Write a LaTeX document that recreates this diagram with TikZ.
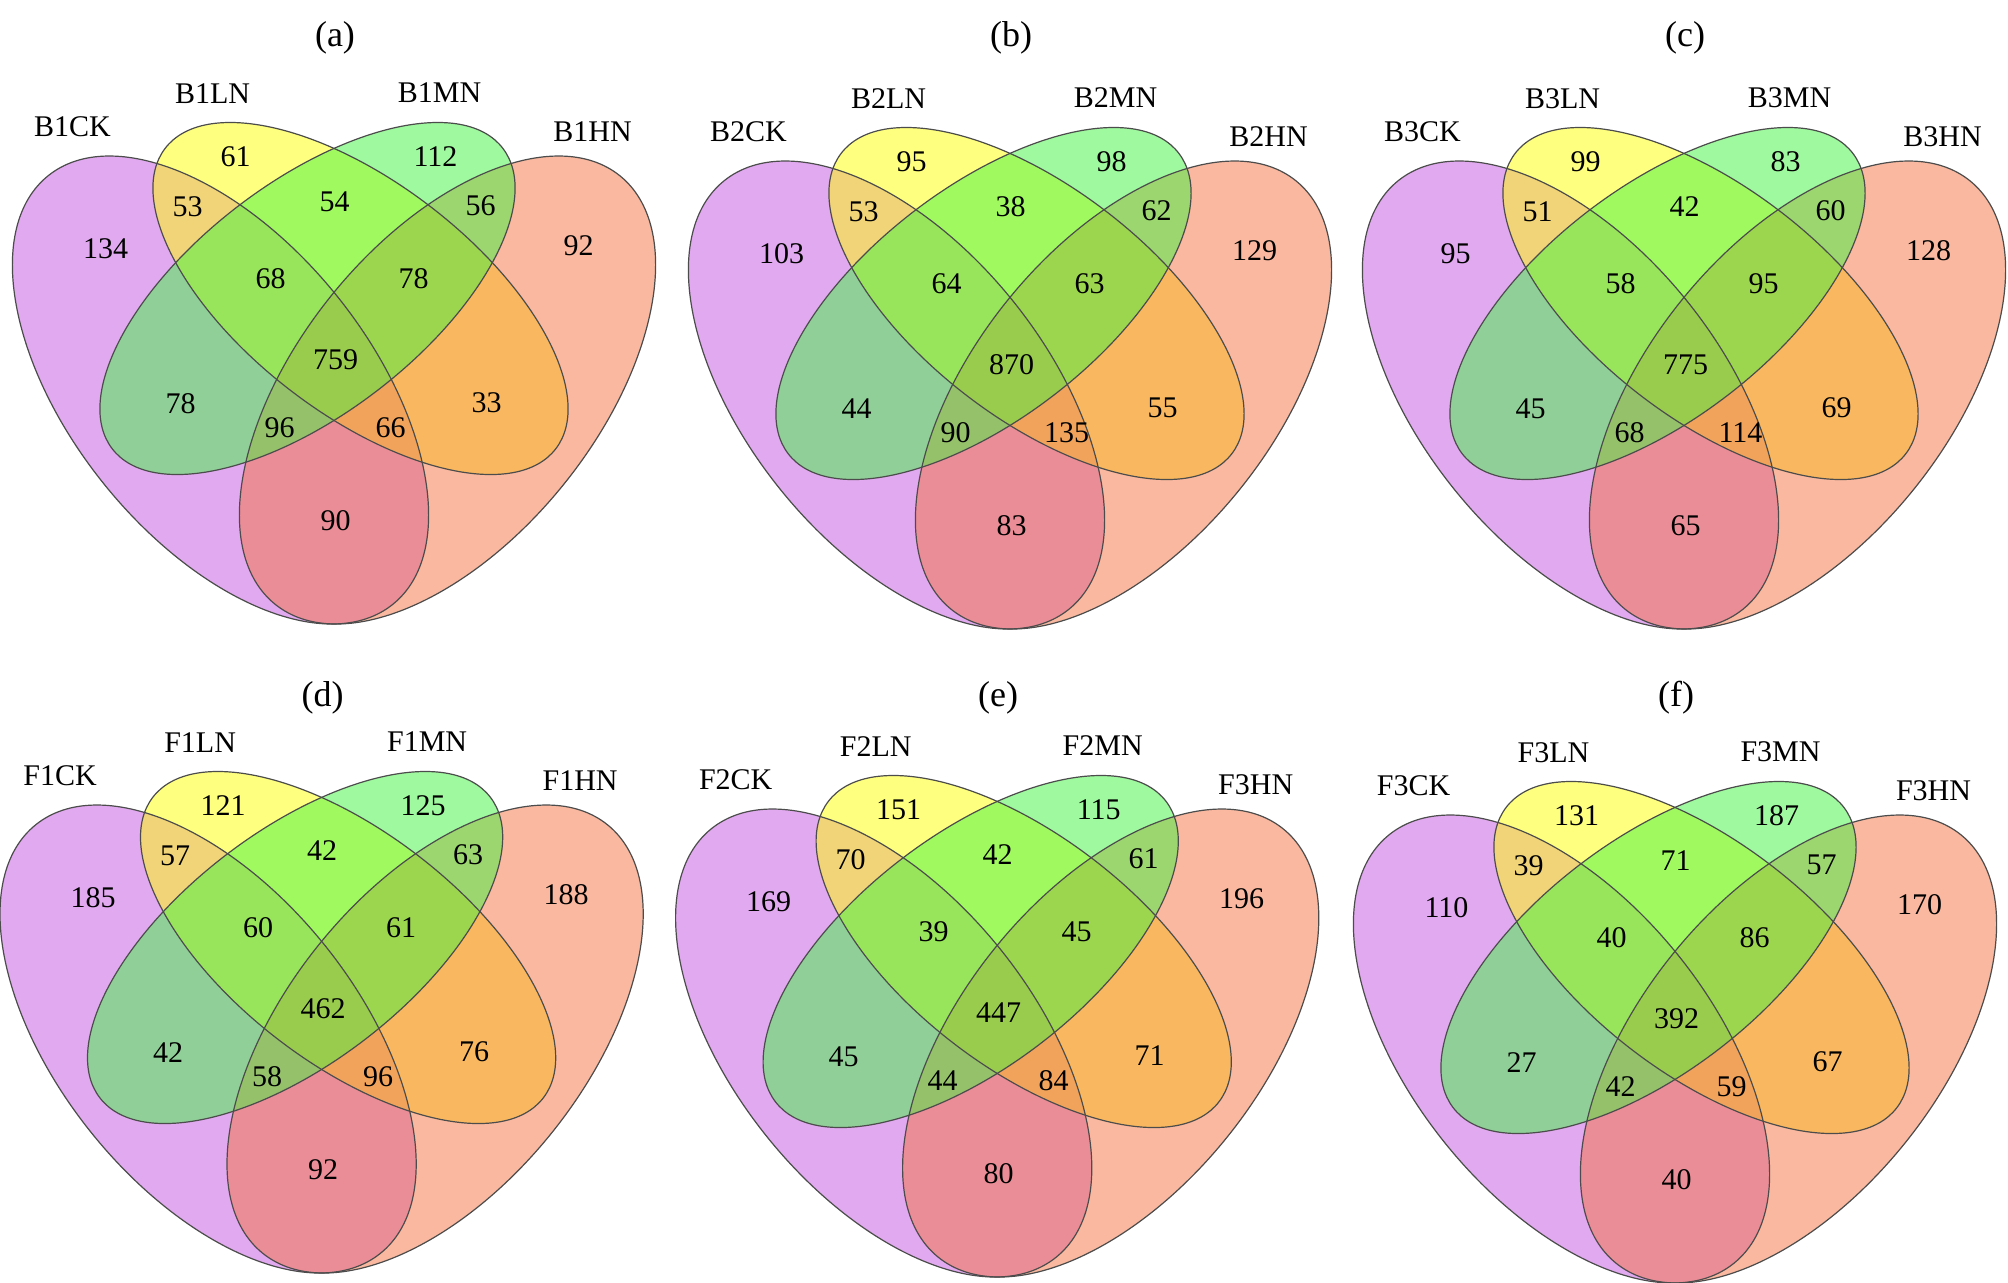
\documentclass[tikz,border=0pt]{standalone}
\usepackage{fontspec}
\setmainfont{Liberation Serif}
\definecolor{ckc}{RGB}{197,85,225}
\definecolor{lnc}{RGB}{255,255,0}
\definecolor{hnc}{RGB}{245,115,65}
\definecolor{mnc}{RGB}{65,245,65}
\tikzset{
  eCK/.style={shift={(-113.5,0)},rotate=128.8},
  eHN/.style={shift={(113.5,0)},rotate=51.2},
  eLN/.style={shift={(26.5,-91.5)},rotate=142.4},
  eMN/.style={shift={(-26.5,-91.5)},rotate=37.6},
  bigr/.style={x radius=137.5pt,y radius=74.85pt},
  smallr/.style={x radius=123.2pt,y radius=57.75pt},
  vfill/.style={fill opacity=0.5},
  vline/.style={draw=black!70,line width=0.6pt},
  num/.style={inner sep=0pt,font=\fontsize{15}{15}\selectfont},
  setlab/.style={inner sep=0pt,font=\fontsize{15}{15}\selectfont},
  ttl/.style={inner sep=0pt,font=\fontsize{18}{18}\selectfont},
}
% #1,#2 anchor; #3 letter; #4 title y; #5-#8 set names; #9 numbers
\newcommand\vennpanel[9]{%
\begin{scope}[shift={(#1,#2)}]
  \coordinate (p1) at (-98.5,-233);
  \coordinate (p2) at (101.5,-233);
  \coordinate (p3) at (-146.5,-183);
  \coordinate (p4) at (0.5,-188);
  \coordinate (p5) at (146.5,-184);
  \coordinate (p6) at (-228.5,-141);
  \coordinate (p7) at (244.5,-144);
  \coordinate (p8) at (-63.5,-111);
  \coordinate (p9) at (79.5,-111);
  \coordinate (p10) at (1.5,-30);
  \coordinate (p11) at (-153.5,14);
  \coordinate (p12) at (152.5,13);
  \coordinate (p13) at (-54.5,38);
  \coordinate (p14) at (56.5,38);
  \coordinate (p15) at (1.5,131);
  \fill[ckc,vfill,eCK] (0,0) ellipse[bigr];
  \fill[lnc,vfill,eLN] (0,0) ellipse[smallr];
  \fill[hnc,vfill,eHN] (0,0) ellipse[bigr];
  \fill[mnc,vfill,eMN] (0,0) ellipse[smallr];
  \draw[vline,eCK] (0,0) ellipse[bigr];
  \draw[vline,eLN] (0,0) ellipse[smallr];
  \draw[vline,eHN] (0,0) ellipse[bigr];
  \draw[vline,eMN] (0,0) ellipse[smallr];
  \node[ttl] (#3-t) at (1,#4) {(#3)};
  \node[setlab] (#3-ck) at (-261.5,-263) {#5};
  \node[setlab] (#3-ln) at (-121.5,-296) {#6};
  \node[setlab] (#3-mn) at (105.5,-297) {#7};
  \node[setlab] (#3-hn) at (258.5,-258) {#8};
  \foreach \v [count=\i] in {#9} \node[num] (#3-n\i) at (p\i) {\v};
\end{scope}}
\begin{document}
\begin{tikzpicture}[x=0.5pt,y=-0.5pt]
\fill[white] (0,0) rectangle (2008,1282);
\useasboundingbox (0,0) rectangle (2008,1282);
\vennpanel{334}{390}{a}{-352}{B1CK}{B1LN}{B1MN}{B1HN}{61,112,53,54,56,134,92,68,78,759,78,33,96,66,90}
\vennpanel{1010}{395}{b}{-357}{B2CK}{B2LN}{B2MN}{B2HN}{95,98,53,38,62,103,129,64,63,870,44,55,90,135,83}
\vennpanel{1684}{395}{c}{-357}{B3CK}{B3LN}{B3MN}{B3HN}{99,83,51,42,60,95,128,58,95,775,45,69,68,114,65}
\vennpanel{321.6}{1039}{d}{-341}{F1CK}{F1LN}{F1MN}{F1HN}{121,125,57,42,63,185,188,60,61,462,42,76,58,96,92}
\vennpanel{997.2}{1043}{e}{-345}{F2CK}{F2LN}{F2MN}{F3HN}{151,115,70,42,61,169,196,39,45,447,45,71,44,84,80}
\vennpanel{1675}{1049}{f}{-351}{F3CK}{F3LN}{F3MN}{F3HN}{131,187,39,71,57,110,170,40,86,392,27,67,42,59,40}
\end{tikzpicture}
\end{document}
